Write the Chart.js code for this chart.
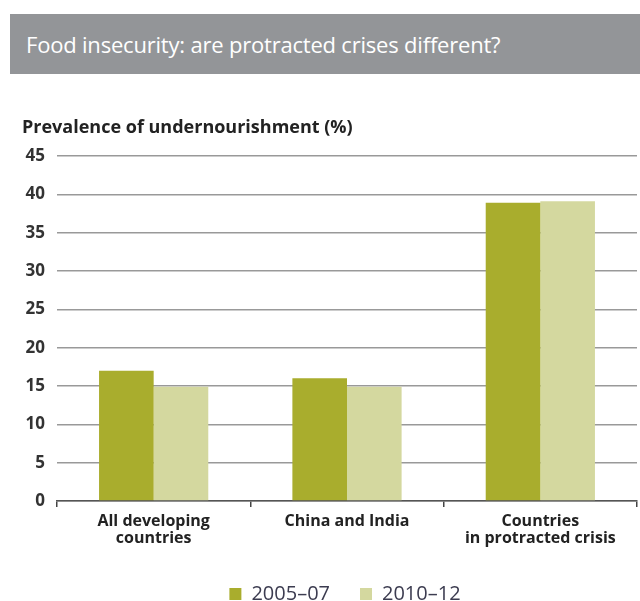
<!DOCTYPE html>
<html><head><meta charset="utf-8">
<script src="https://cdn.jsdelivr.net/npm/chart.js@4/dist/chart.umd.min.js"></script>
<style>
html,body{margin:0;padding:0;background:#fff;}
#wrap{position:relative;width:640px;height:601px;}
#banner{position:absolute;left:10px;top:14px;width:630px;height:60px;background:#939598;color:#fff;font-family:"Open Sans",sans-serif;font-size:22px;line-height:60px;box-sizing:border-box;padding-left:16px;letter-spacing:-0.2px;}
canvas{position:absolute;left:0;top:0;}
</style></head>
<body><div id="wrap"><canvas id="c" width="640" height="601"></canvas><div id="banner">Food insecurity: are protracted crises different?</div></div>
<script>
const chartTitle = "Food insecurity: are protracted crises different?";
const axisTitle = "Prevalence of undernourishment (%)";
const categories = [["All developing","countries"],["China and India"],["Countries","in protracted crisis"]];
const series2005 = [17.0, 16.0, 38.9];
const series2010 = [14.9, 14.9, 39.1];
const seriesNames = ["2005–07","2010–12"];
const yTicks = [0,5,10,15,20,25,30,35,40,45];

const axisTitlePlugin = {
  id:'axisTitle',
  afterLayout(chart){
    if (chart.legend) { chart.legend.left += 50; }
  },
  afterDraw(chart){
    const ctx = chart.ctx;
    ctx.save();
    ctx.font = 'bold 18px "Open Sans", sans-serif';
    ctx.fillStyle = '#222';
    ctx.textBaseline = 'middle';
    ctx.textAlign = 'left';
    ctx.fillText(axisTitle, 22, 128);
    ctx.restore();
  }
};

new Chart(document.getElementById('c'), {
  type:'bar',
  data:{
    labels: categories,
    datasets:[
      {label:seriesNames[0], data:series2005, backgroundColor:'#a9ad2d'},
      {label:seriesNames[1], data:series2010, backgroundColor:'#d4d89f'}
    ]
  },
  plugins:[axisTitlePlugin],
  options:{
    responsive:false,
    animation:false,
    layout:{padding:{left:0,right:0,top:156,bottom:-13}},
    datasets:{bar:{categoryPercentage:0.565,barPercentage:1.0}},
    plugins:{
      title:{display:false},
      tooltip:{enabled:false},
      legend:{
        position:'bottom',
        labels:{boxWidth:12,boxHeight:12,padding:30,color:'#3c3c50',font:{size:20,family:'"Open Sans", sans-serif'}}
      }
    },
    scales:{
      x:{
        afterFit(s){s.height=53;},
        grid:{drawOnChartArea:false,drawTicks:true,tickLength:6,color:'#444',lineWidth:1.5},
        border:{display:true,color:'#555',width:1.5},
        ticks:{color:'#222',font:{size:16,weight:'bold',family:'"Open Sans", sans-serif',lineHeight:1.07},padding:6}
      },
      y:{
        min:0,max:45,
        afterFit(s){s.width=57;},
        afterBuildTicks(s){s.ticks = yTicks.map(v=>({value:v}));},
        grid:{color:'#999',lineWidth:1.5,drawTicks:false},
        border:{display:false},
        ticks:{color:'#333',font:{size:17,weight:'bold',family:'"Open Sans", sans-serif'},padding:12}
      },
      y2:{
        position:'right',display:true,
        afterFit(s){s.width=3;},
        grid:{display:false},border:{display:false},ticks:{display:false}
      }
    }
  }
});
</script></body></html>
